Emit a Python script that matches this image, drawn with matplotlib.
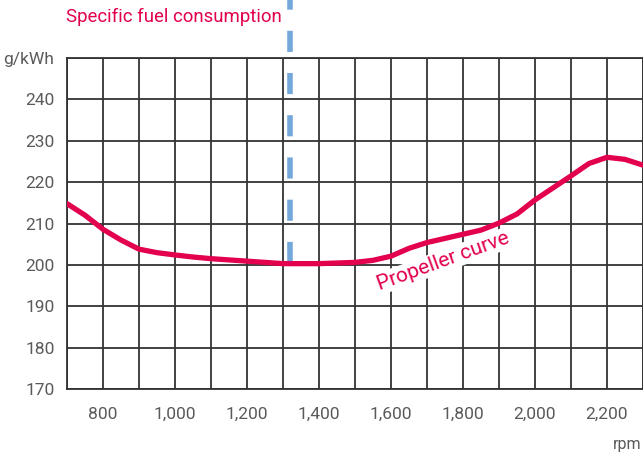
import matplotlib
matplotlib.use("Agg")
import matplotlib.pyplot as plt
from matplotlib.ticker import MultipleLocator

rpm = [700, 750, 800, 850, 900, 950, 1000, 1050, 1100, 1150, 1200, 1300, 1400, 1500, 1550,
       1600, 1650, 1700, 1750, 1800, 1850, 1900, 1950, 2000, 2050, 2100, 2150, 2200, 2250, 2300]
sfc = [214.8, 212.0, 208.6, 206.0, 203.8, 202.95, 202.4, 201.9, 201.5, 201.2, 200.9, 200.3, 200.3, 200.6, 201.1,
       202.1, 204.0, 205.4, 206.4, 207.4, 208.4, 210.1, 212.3, 215.7, 218.6, 221.5, 224.5, 226.0, 225.5, 224.1]
x_ticks = [800, 1000, 1200, 1400, 1600, 1800, 2000, 2200]
x_labels = ["800", "1,000", "1,200", "1,400", "1,600", "1,800", "2,000", "2,200"]
y_ticks = [170, 180, 190, 200, 210, 220, 230, 240, 250]
y_labels = ["170", "180", "190", "200", "210", "220", "230", "240", "g/kWh"]
marker_rpm = 1319

RED = "#e2004f"
BLUE = "#74a7da"
GRID = "#333333"
TXT = "#5a5a5a"

plt.rcParams['font.family'] = ['Roboto', 'DejaVu Sans']

fig = plt.figure(figsize=(6.43, 4.59), dpi=100)
ax = fig.add_axes([67/643, 1-389/459, 576/643, 331/459])
ax.set_xlim(700, 2300)
ax.set_ylim(170, 250)

ax.xaxis.set_minor_locator(MultipleLocator(100))
ax.set_xticks(x_ticks)
ax.set_xticklabels(x_labels)
ax.set_yticks(y_ticks)
ax.set_yticklabels(y_labels)
ax.grid(True, which='both', axis='x', color=GRID, linewidth=1.3)
ax.grid(True, which='major', axis='y', color=GRID, linewidth=1.3)
ax.tick_params(which='both', length=0)
ax.tick_params(axis='x', pad=13, labelsize=12.5, labelcolor=TXT)
ax.tick_params(axis='y', pad=9, labelsize=12.5, labelcolor=TXT)
for s in ax.spines.values():
    s.set_color(GRID)
    s.set_linewidth(1.3)
ax.set_axisbelow(True)

ax.plot([marker_rpm, marker_rpm], [200.45, 266], color=BLUE, linewidth=4,
        dashes=(3.8, 3.8), clip_on=False, zorder=3, dash_capstyle='butt')
ax.plot(rpm, sfc, color=RED, linewidth=3.8, zorder=4, solid_capstyle='round',
        solid_joinstyle='round')

ax.text(1744, 200.9, "Propeller curve", color=RED, fontsize=15, rotation=20,
        ha='center', va='center', zorder=5, rotation_mode='anchor',
        bbox=dict(facecolor='white', edgecolor='none', pad=1.0))

fig.text(66/643, 1-17/459, "Specific fuel consumption", color=RED, fontsize=13.4,
         ha='left', va='center')
fig.text(641/643, 1-444/459, "rpm", color=TXT, fontsize=11.5, ha='right', va='center')

fig.savefig("out.png", dpi=100)
